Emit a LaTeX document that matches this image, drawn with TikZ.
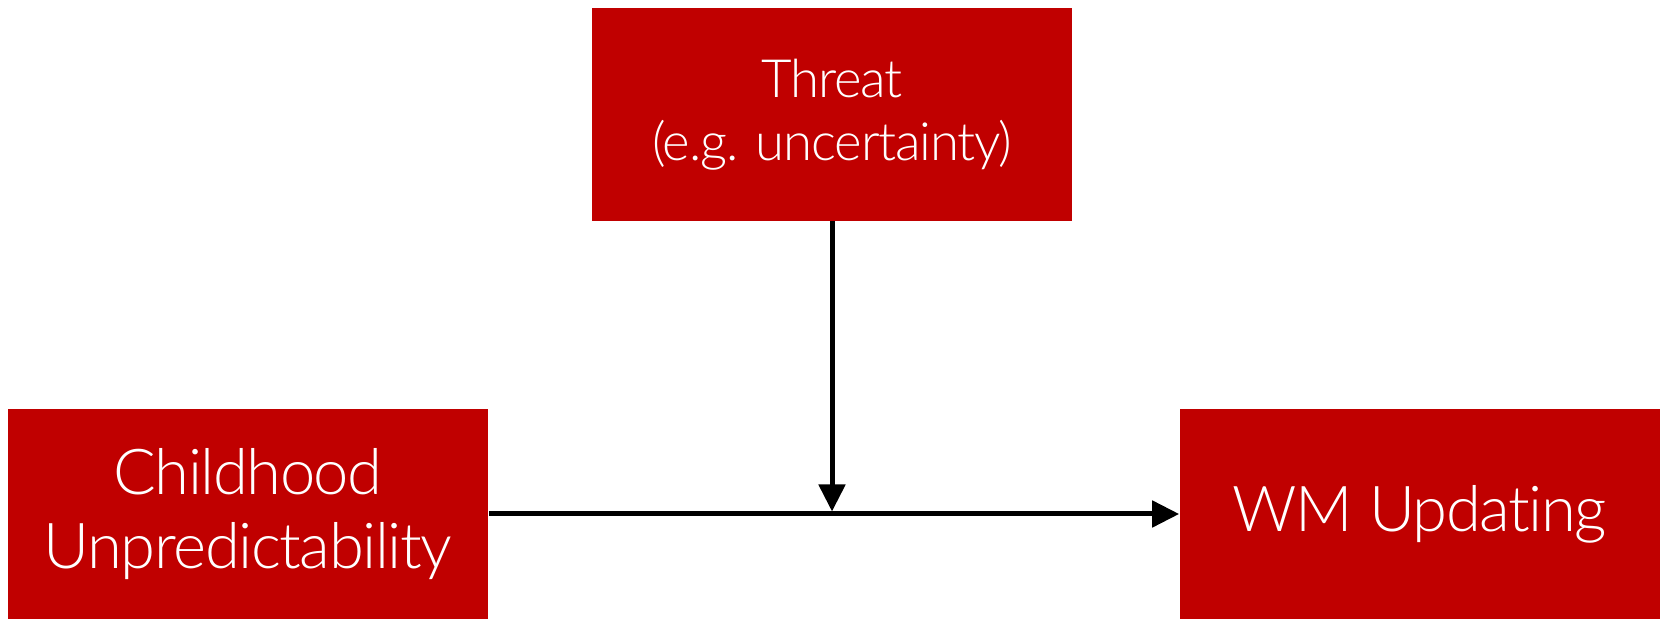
\documentclass[tikz,border=0pt]{standalone}
\usepackage{fontspec}
\setmainfont{Lato}[UprightFont={* Light},Ligatures={NoCommon},LetterSpace=-2.3]
\usepackage{xcolor}
\usepackage{tikz}
\usetikzlibrary{positioning,arrows.meta}
\definecolor{boxred}{RGB}{192,0,0}

\begin{document}
\begin{tikzpicture}[x=0.01cm,y=-0.01cm,
        box/.style={rectangle,fill=boxred,text=white,inner sep=0pt,
                    minimum width=4.8cm,align=center},
        link/.style={line width=0.05cm,black},
        tip/.style={-{Triangle[length=0.27cm,width=0.26cm]}}]
        \useasboundingbox (0,0) rectangle (1661,619);
        \node[box,minimum height=2.12cm,font=\fontsize{15}{18}\selectfont]
             (threat) at (832,114.5) {Threat\\(e.g. uncertainty)};
        \node[box,minimum height=2.10cm,font=\fontsize{18}{21.3}\selectfont]
             (child) at (248,514) {Childhood\\Unpredictability};
        \node[box,minimum height=2.10cm,font=\fontsize{18}{21.3}\selectfont]
             (wm) at (1420,514) {WM Updating};
        \coordinate (mid) at (threat |- child);
        \draw[link,tip] (child) -- (wm);
        \draw[link,tip,shorten >=0.025cm] (threat) -- (mid);
      \end{tikzpicture}
\end{document}
